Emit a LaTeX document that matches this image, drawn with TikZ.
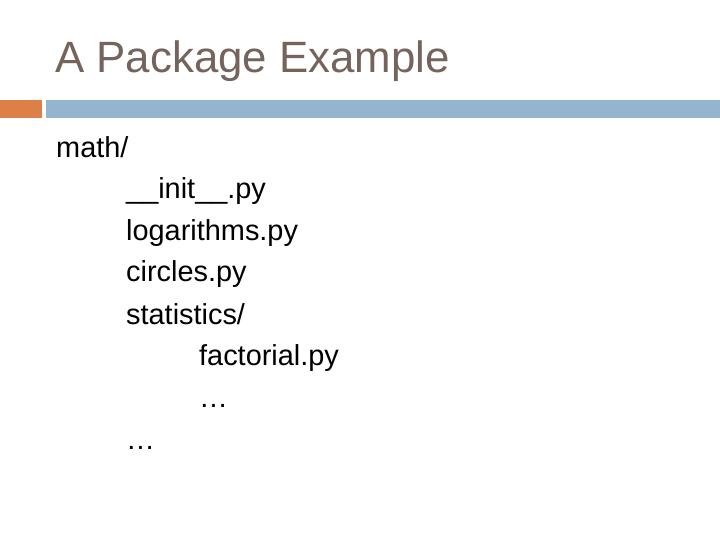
\documentclass[tikz,border=0pt]{standalone}
\usepackage{fontspec}
\setmainfont{Liberation Sans}
\definecolor{titlebrown}{RGB}{117,100,92}
\definecolor{barorange}{RGB}{221,128,71}
\definecolor{barblue}{RGB}{148,180,208}
\begin{document}
\begin{tikzpicture}[
  x=1bp, y=-1bp,
  title/.style={anchor=base west, inner sep=0pt, text=titlebrown, font=\fontsize{44}{52}\selectfont},
  entry/.style={anchor=base west, inner sep=0pt, font=\fontsize{29}{35}\selectfont},
]
\useasboundingbox[fill=white] (0,0) rectangle (720,540);
\node[title] (heading) at (55, 73) {A Package Example};
\fill[barorange] (0,100) rectangle (42,118);
\fill[barblue] (46,100) rectangle (720,118);
\node[entry] (pkg)   at (56, 158) {math/};
\node[entry] (init)  at (126, 199) {\_\_init\_\_.py};
\node[entry] (logs)  at (126, 241) {logarithms.py};
\node[entry] (circ)  at (126, 282) {circles.py};
\node[entry] (stats) at (126, 324) {statistics/};
\node[entry] (fact)  at (199, 365) {factorial.py};
\node[entry] (more)  at (199, 407) {…};
\node[entry] (rest)  at (126, 449) {…};
\end{tikzpicture}
\end{document}
